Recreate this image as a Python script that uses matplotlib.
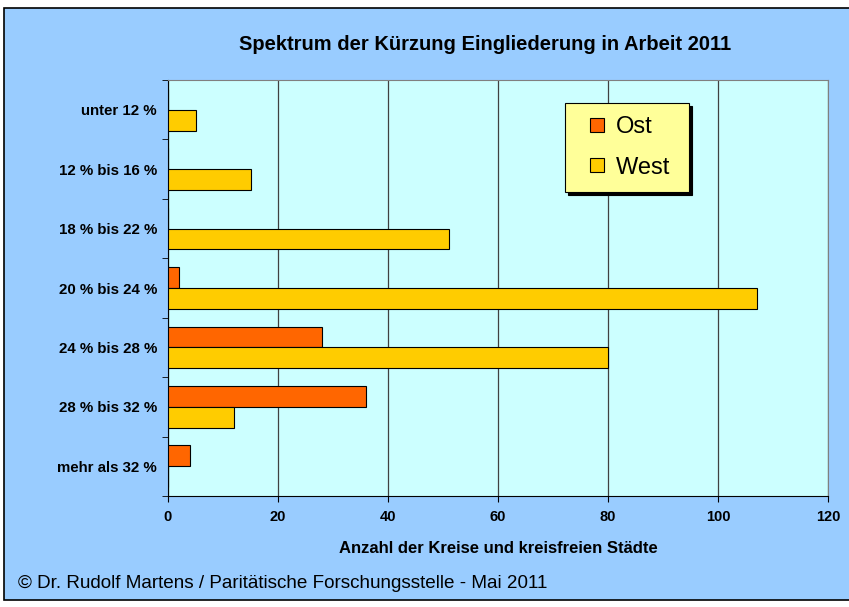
import numpy as np
import matplotlib.pyplot as plt
from matplotlib.patches import Rectangle
from matplotlib.lines import Line2D

plt.rcParams['font.family'] = ['Liberation Sans', 'DejaVu Sans']

#Data
categories = ['unter 12 %', '12 % bis 16 %', '18 % bis 22 %', '20 % bis 24 %',
              '24 % bis 28 %', '28 % bis 32 %', 'mehr als 32 %']
ost = [0, 0, 0, 2, 28, 36, 4]
west = [5, 15, 51, 107, 80, 12, 0]
xticks = [0, 20, 40, 60, 80, 100, 120]
c_ost = '#FF6600'
c_west = '#FFCC00'

fig = plt.figure(figsize=(8.49, 6.07), dpi=100)
fig.patch.set_facecolor('white')
#outer blue chart area with black frame
fig.patches.append(Rectangle((4/849, 1-600/607), 1, 592/607, transform=fig.transFigure,
                             facecolor='#99CCFF', edgecolor='black', linewidth=1.2, zorder=-5))

ax = fig.add_axes([168/849, 1-496/607, 660/849, 416/607])
ax.set_zorder(2)
ax.set_facecolor('#CCFFFF')

y = np.arange(len(categories))
h = 0.35
# Ost above, West below within each category (y axis inverted)
ax.barh(y - h/2, ost, height=h, color=c_ost, edgecolor='black', linewidth=0.8, zorder=3)
ax.barh(y + h/2, west, height=h, color=c_west, edgecolor='black', linewidth=0.8, zorder=3)

ax.set_xlim(0, 120)
ax.set_ylim(len(categories) - 0.5, -0.5)
ax.set_xticks(xticks)
ax.set_xticklabels([str(v) for v in xticks], fontsize=10.5, fontweight='bold')
ax.set_yticks(y)
ax.set_yticklabels(categories, fontsize=10.8, fontweight='bold')
ax.set_yticks(np.arange(-0.5, len(categories)), minor=True)
ax.tick_params(axis='y', which='major', length=0, pad=8)
ax.tick_params(axis='y', which='minor', length=4, direction='out')
ax.tick_params(axis='x', length=4, direction='out', pad=6)

ax.grid(axis='x', color='#404040', linewidth=0.9, zorder=1)
for s in ['top', 'right']:
    ax.spines[s].set_color('#808080')
for s in ['left', 'bottom']:
    ax.spines[s].set_color('black')

ax.set_xlabel('Anzahl der Kreise und kreisfreien Städte', fontsize=12,
              fontweight='bold', labelpad=12)

fig.text(485/849, 1-45/607, 'Spektrum der Kürzung Eingliederung in Arbeit 2011',
         ha='center', va='center', fontsize=14.5, fontweight='bold')
fig.text(18/849, 1-583/607, '© Dr. Rudolf Martens / Paritätische Forschungsstelle - Mai 2011',
         ha='left', va='center', fontsize=13.6)

handles = [Line2D([], [], marker='s', linestyle='none', markersize=10,
                  markerfacecolor=c, markeredgecolor='black', markeredgewidth=0.8)
           for c in (c_ost, c_west)]
leg = ax.legend(handles, ['Ost', 'West '], loc='upper left', bbox_to_anchor=(0.602, 0.945),
                fontsize=17, frameon=True, fancybox=False,
                shadow={'color': 'black', 'alpha': 1},
                facecolor='#FFFF99', edgecolor='black', framealpha=1,
                handlelength=1.6, handletextpad=0.0,
                labelspacing=0.8, borderpad=0.55, borderaxespad=0)
leg.get_frame().set_linewidth(0.8)

plt.savefig('out.png', dpi=100, facecolor=fig.get_facecolor())
